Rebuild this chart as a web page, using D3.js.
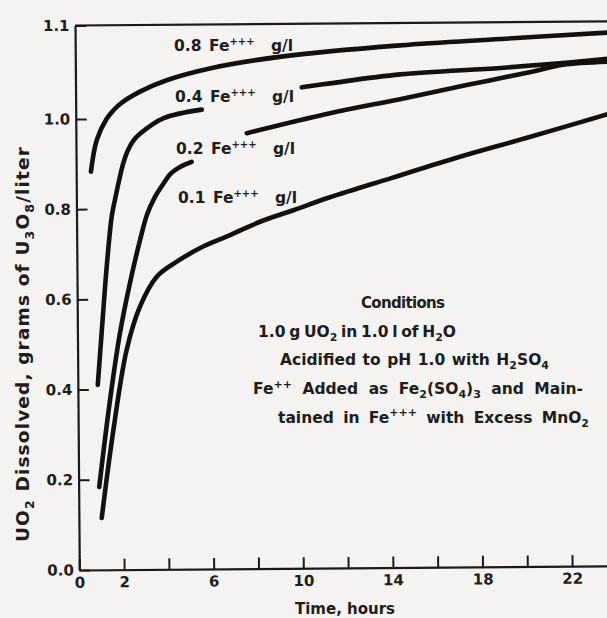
<!DOCTYPE html>
<html>
<head>
<meta charset="utf-8">
<script src="https://cdn.jsdelivr.net/npm/d3@7"></script>
<style>
  html, body { margin: 0; padding: 0; background: #f4f3f1; }
  svg { display: block; }
  text { font-family: "DejaVu Sans", sans-serif; font-weight: 700; fill: #1d1d1d; }
</style>
</head>
<body>
<svg id="chart" width="607" height="618"></svg>
<script>
// Dissolution of UO2 (reported as U3O8, g/l) against time for four ferric iron levels.
// A null value marks where a curve is interrupted by its label.
const hours08 = [0.66, 0.93, 1.38, 1.69, 2.0, 2.9, 4.1, 6.0, 9.2, 14.5, 19.0, 23.8];
const uo08    = [0.883, 0.953, 1.0, 1.009, 1.016, 1.029, 1.041, 1.053, 1.065, 1.076, 1.082, 1.088];

const hours04 = [0.89, 1.08, 1.33, 1.57, 1.72, 1.955, 2.11, 2.3, 2.55, 2.86, 3.9, 5.63, 7.5, 10.1, 11.36, 14.5, 19.0, 21.9, 23.8];
const uo04    = [0.410, 0.525, 0.672, 0.783, 0.820, 0.872, 0.902, 0.928, 0.950, 0.966, 1.000, 1.009, null, 1.032, 1.036, 1.045, 1.051, 1.056, 1.060];

const hours02 = [0.92, 1.43, 1.90, 2.36, 2.83, 3.15, 3.51, 3.89, 4.23, 4.64, 5.16, 6.4, 7.63, 11.35, 14.48, 17.46, 20.43, 21.77, 23.8];
const uo02    = [0.184, 0.376, 0.525, 0.635, 0.731, 0.787, 0.826, 0.855, 0.878, 0.892, 0.903, null, 0.9655, 1.004, 1.0185, 1.033, 1.047, 1.054, 1.057];

const hours01 = [1.02, 1.55, 2.19, 2.80, 3.56, 4.46, 5.64, 6.85, 8.19, 9.68, 11.32, 14.1, 17.1, 20.1, 23.8];
const uo01    = [0.115, 0.303, 0.487, 0.583, 0.649, 0.682, 0.715, 0.740, 0.769, 0.794, 0.822, 0.864, 0.909, 0.950, 1.001];

const seriesNames = ["0.8", "0.4", "0.2", "0.1"];

// Axis ticks and their printed labels
const xTickValues  = [0, 2, 4, 6, 8, 10, 12, 14, 16, 18, 20, 22, 24];
const xLabelValues = [0, 2, 6, 10, 14, 18, 22];
const yTickValues  = [0, 0.2, 0.4, 0.6, 0.8, 1.0, 1.1];
const yTickLabels  = ["0.0", "0.2", "0.4", "0.6", "0.8", "1.0", "1.1"];

const xTitle = "Time, hours";

const INK = "#1a1a1a";
const SKEW = 0.45; // the printed frame sits slightly rotated on the page

const svg = d3.select("#chart");

// Scales: the y axis is stretched above 1.0 as on the printed scale
const x = d3.scaleLinear().domain([0, 24]).range([79.3, 79.3 + 22.4 * 24]);
const y = d3.scaleLinear().domain([0, 1.0, 1.1]).range([570, 119, 25.5]);

const plot = svg.append("g")
  .attr("transform", `rotate(${-SKEW},${x(0)},${y(0)})`);

// Top border of the frame
plot.append("line")
  .attr("x1", x(0)).attr("x2", x(24))
  .attr("y1", y(1.1)).attr("y2", y(1.1))
  .attr("stroke", INK).attr("stroke-width", 2.2);

function styleAxis(g) {
  g.select(".domain").attr("stroke", INK).attr("stroke-width", 2.2);
  g.selectAll(".tick line").attr("stroke", INK).attr("stroke-width", 2);
  g.selectAll(".tick text")
    .attr("font-family", "'DejaVu Sans', sans-serif")
    .attr("font-weight", 700).attr("font-size", 15).attr("fill", "#1d1d1d");
}

// Y axis, ticks pointing into the plot
const yAxis = plot.append("g")
  .attr("transform", `translate(${x(0)},0)`)
  .call(d3.axisLeft(y)
    .tickValues(yTickValues)
    .tickFormat((d, i) => yTickLabels[i])
    .tickSize(-11).tickSizeOuter(0).tickPadding(5.5));
styleAxis(yAxis);

// X axis, ticks pointing into the plot
const xAxis = plot.append("g")
  .attr("transform", `translate(0,${y(0)})`)
  .call(d3.axisBottom(x)
    .tickValues(xTickValues)
    .tickFormat(d => xLabelValues.includes(d) ? String(d) : "")
    .tickSize(-11).tickSizeOuter(0).tickPadding(7));
styleAxis(xAxis);

// Curves
const series = [
  { name: seriesNames[0], t: hours08, v: uo08 },
  { name: seriesNames[1], t: hours04, v: uo04 },
  { name: seriesNames[2], t: hours02, v: uo02 },
  { name: seriesNames[3], t: hours01, v: uo01 }
].map(s => ({ name: s.name, points: s.t.map((t, i) => ({ t, v: s.v[i] })) }));

const line = d3.line()
  .defined(d => d.v != null)
  .x(d => x(d.t))
  .y(d => y(d.v))
  .curve(d3.curveCatmullRom.alpha(0.5));

plot.append("g").selectAll("path")
  .data(series)
  .join("path")
  .attr("d", d => line(d.points))
  .attr("fill", "none")
  .attr("stroke", "#111")
  .attr("stroke-width", 4.6)
  .attr("stroke-linecap", "round")
  .attr("stroke-linejoin", "round");

// Spread a line of text to a set width, through its word gaps when it has any
function fitWidth(sel, width) {
  const node = sel.node();
  const natural = node.getComputedTextLength();
  const str = node.textContent;
  const gaps = (str.match(/ /g) || []).length;
  if (gaps > 0) sel.style("word-spacing", `${(width - natural) / gaps}px`);
  else sel.style("letter-spacing", `${(width - natural) / Math.max(1, str.length - 1)}px`);
}

// Curve labels
const labelPos = [
  { x: 174, y: 51 },
  { x: 175, y: 102 },
  { x: 176, y: 154 },
  { x: 178, y: 203 }
];
series.forEach((s, i) => {
  const p = labelPos[i];
  const lbl = svg.append("text").attr("y", p.y).attr("font-size", 15.5);
  lbl.append("tspan").attr("x", p.x).text(s.name);
  lbl.append("tspan").attr("x", p.x + 35).text("Fe");
  lbl.append("tspan").attr("font-size", 10).attr("dy", -6.5).text("+++");
  lbl.append("tspan").attr("x", p.x + 97).attr("dy", 6.5).text("g/l");
});

// Axis titles
svg.append("text")
  .attr("x", 345).attr("y", 614)
  .attr("text-anchor", "middle").attr("font-size", 15)
  .text(xTitle);

const yTitle = svg.append("text")
  .attr("transform", "translate(29,344) rotate(-90)")
  .attr("text-anchor", "middle").attr("font-size", 18.5);
yTitle.append("tspan").text("UO");
yTitle.append("tspan").attr("font-size", 12.5).attr("dy", 4.5).text("2");
yTitle.append("tspan").attr("dy", -4.5).text(" Dissolved, grams of U");
yTitle.append("tspan").attr("font-size", 12.5).attr("dy", 4.5).text("3");
yTitle.append("tspan").attr("dy", -4.5).text("O");
yTitle.append("tspan").attr("font-size", 12.5).attr("dy", 4.5).text("8");
yTitle.append("tspan").attr("dy", -4.5).text("/liter");
{
  const natural = yTitle.node().getComputedTextLength();
  const n = yTitle.node().textContent.length;
  yTitle.style("letter-spacing", `${(395 - natural) / (n - 1)}px`);
}

// Experimental conditions note (justified block)
const NOTE_SIZE = 15.5, NOTE_SMALL = 11;
const note = [
  { x: 361, w: 84,  size: 15, parts: [["Conditions"]] },
  { x: 258, w: 198, parts: [["1.0 g UO"], ["2", "sub"], [" in 1.0 l of H"], ["2", "sub"], ["O"]] },
  { x: 280, w: 269, parts: [["Acidified to pH 1.0 with H"], ["2", "sub"], ["SO"], ["4", "sub"]] },
  { x: 253, w: 330, parts: [["Fe"], ["++", "sup"], [" Added as Fe"], ["2", "sub"], ["(SO"], ["4", "sub"], [")"], ["3", "sub"], [" and Main-"]] },
  { x: 278, w: 311, parts: [["tained in Fe"], ["+++", "sup"], [" with Excess MnO"], ["2", "sub"]] }
];
note.forEach((ln, i) => {
  const size = ln.size || NOTE_SIZE;
  const t = svg.append("text")
    .attr("x", ln.x).attr("y", 308 + i * 28.7)
    .attr("font-size", size);
  let shift = 0;
  ln.parts.forEach(([str, kind]) => {
    const target = kind === "sub" ? 4 : kind === "sup" ? -6.5 : 0;
    t.append("tspan")
      .attr("dy", target - shift)
      .attr("font-size", kind ? NOTE_SMALL : size)
      .text(str);
    shift = target;
  });
  fitWidth(t, ln.w);
});
</script>
</body>
</html>
